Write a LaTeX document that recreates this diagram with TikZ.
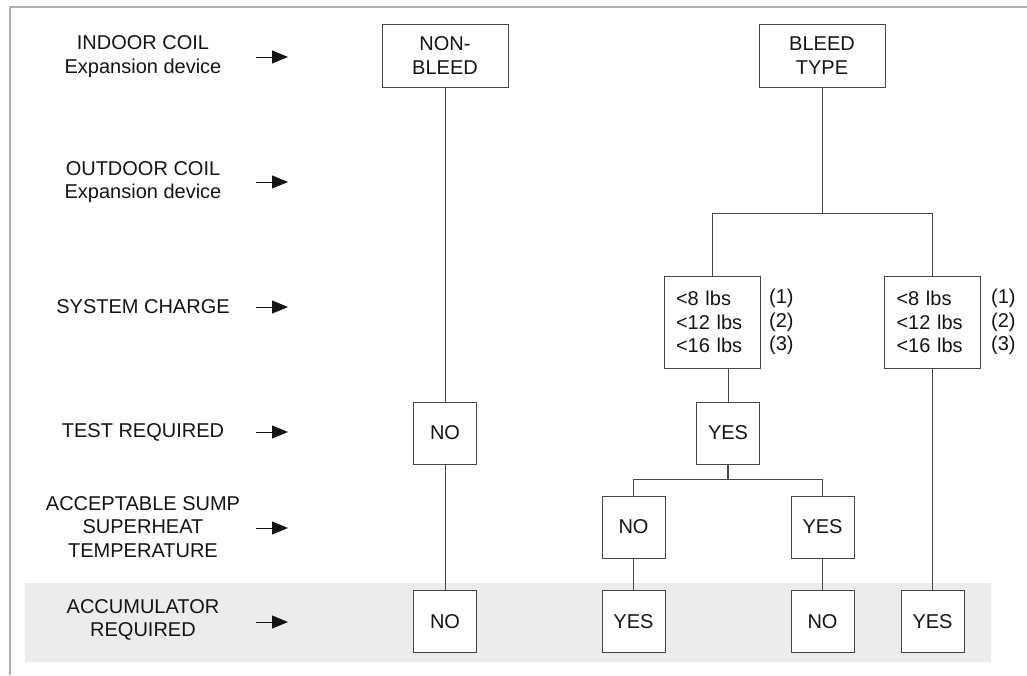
\documentclass[tikz,border=0pt]{standalone}
\usepackage{fontspec}
\setmainfont{Liberation Sans}
\usetikzlibrary{positioning,arrows.meta}
\definecolor{frame}{RGB}{164,176,188}
\definecolor{band}{RGB}{236,236,236}
\definecolor{ink}{RGB}{20,20,20}
\definecolor{edge}{RGB}{70,70,70}
\newcommand{\chartfont}{\fontsize{20}{23.5}\selectfont}

\tikzset{
  box/.style={draw=edge, line width=0.9pt, fill=white, text=ink, inner sep=0pt,
    minimum width=63pt, minimum height=62pt, font=\chartfont},
  widebox/.style={box, minimum width=126pt, minimum height=63pt, align=center},
  chargebox/.style={box, minimum width=96pt, minimum height=92pt, text width=72pt, align=left},
  rowlabel/.style={align=center, text=ink, inner sep=0pt, font=\chartfont},
  notes/.style={align=left, anchor=west, text=ink, inner sep=0pt, font=\chartfont},
  link/.style={draw=edge, line width=0.8pt},
  rowarrow/.style={draw=ink, line width=0.9pt, -{Triangle[length=16pt,width=13pt]}}
}

\begin{document}
\begin{tikzpicture}[x=1pt,y=-1pt]
  \useasboundingbox (0,0) rectangle (1027,675);
  \fill[white] (0,0) rectangle (1027,675);
  % frame and shaded row
  \draw[frame, line width=1.4pt] (1027,7) -- (10,7) -- (10,675);
  \fill[band] (25,583) rectangle (991,662);

  % row labels
  \node[rowlabel] (indoor) at (143,56.5) {INDOOR COIL\\Expansion device};
  \node[rowlabel] (outdoor) at (143,182) {OUTDOOR COIL\\Expansion device};
  \node[rowlabel] (charge) at (143,307) {SYSTEM CHARGE};
  \node[rowlabel] (test) at (143,432) {TEST REQUIRED};
  \node[rowlabel] (sump) at (143,527) {ACCEPTABLE SUMP\\SUPERHEAT\\TEMPERATURE};
  \node[rowlabel] (accum) at (143,620) {ACCUMULATOR\\REQUIRED};
  \foreach \y/\n in {57/a,182/b,307/c,432/d,528/e,622/f} {
    \coordinate (tail\n) at (256,\y);
    \coordinate (head\n) at (288,\y);
    \draw[rowarrow] (tail\n) -- (head\n);
  }

  % boxes
  \node[widebox] (nonbleed) at (445,55.5) {NON-\\BLEED};
  \node[widebox] (bleed) at (822,55.5) {BLEED\\TYPE};
  \node[chargebox] (chargeL) at (712,322) {<8 lbs\\<12 lbs\\<16 lbs};
  \node[chargebox] (chargeR) at (932.5,322) {<8 lbs\\<12 lbs\\<16 lbs};
  \node[notes] (notesL) at (769,322) {(1)\\(2)\\(3)};
  \node[notes] (notesR) at (991,322) {(1)\\(2)\\(3)};
  \node[box] (testNo) at (445,433) {NO};
  \node[box] (testYes) at (728,433) {YES};
  \node[box] (sumpNo) at (633.5,527) {NO};
  \node[box] (sumpYes) at (822.5,527) {YES};
  \node[box] (accNoA) at (445,621.5) {NO};
  \node[box] (accYesA) at (633.5,621.5) {YES};
  \node[box] (accNoB) at (822.5,621.5) {NO};
  \node[box] (accYesB) at (932.5,621.5) {YES};

  % connectors
  \coordinate (split1) at (822,213);
  \coordinate (split2) at (728,479);
  \draw[link] (nonbleed) -- (testNo);
  \draw[link] (testNo) -- (accNoA);
  \draw[link] (bleed) -- (split1);
  \draw[link] (split1) -| (chargeL.north);
  \draw[link] (split1) -| (chargeR.north);
  \draw[link] (chargeL.south -| testYes.north) -- (testYes.north);
  \draw[link, line width=1.6pt] (testYes) -- (split2);
  \draw[link] (split2) -| (sumpNo.north);
  \draw[link] (split2) -| (sumpYes.north);
  \draw[link] (sumpNo) -- (accYesA);
  \draw[link] (sumpYes) -- (accNoB);
  \draw[link] (chargeR) -- (accYesB);
\end{tikzpicture}
\end{document}
